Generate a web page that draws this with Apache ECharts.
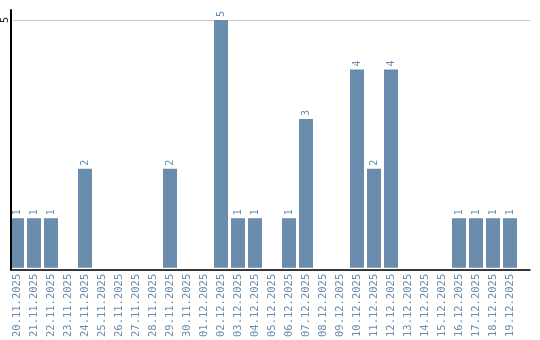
<!DOCTYPE html>
<html><head><meta charset="utf-8">
<script src="https://cdn.jsdelivr.net/npm/echarts@6/dist/echarts.min.js"></script>
<style>html,body{margin:0;padding:0;background:#fff}#c{width:540px;height:340px}</style>
</head><body><div id="c"></div>
<script>
const categories = ['20.11.2025','21.11.2025','22.11.2025','23.11.2025','24.11.2025','25.11.2025','26.11.2025','27.11.2025','28.11.2025','29.11.2025','30.11.2025','01.12.2025','02.12.2025','03.12.2025','04.12.2025','05.12.2025','06.12.2025','07.12.2025','08.12.2025','09.12.2025','10.12.2025','11.12.2025','12.12.2025','13.12.2025','14.12.2025','15.12.2025','16.12.2025','17.12.2025','18.12.2025','19.12.2025'];
const values = [1,1,1,0,2,0,0,0,0,2,0,0,5,1,1,0,1,3,0,0,4,2,4,0,0,0,1,1,1,1];
const yTicks = [5];

const barColor = '#6a8cad';
const font = 'DejaVu Sans Mono';
const chart = echarts.init(document.getElementById('c'), null, {renderer:'canvas'});
chart.setOption({
  animation:false,
  grid:[
    {left:11, right:10, top:10, bottom:70},
    {left:11, right:10, top:20, bottom:70},
    {left:8.5, width:510, top:20, bottom:70}
  ],
  xAxis:[
    {gridIndex:0, type:'value', min:0, max:1, z:5,
     axisLine:{show:true, lineStyle:{color:'#000', width:1.5}}, axisTick:{show:false}, axisLabel:{show:false}, splitLine:{show:false}},
    {gridIndex:1, type:'value', min:0, max:1, show:false},
    {gridIndex:2, type:'category', data:categories,
     axisLine:{show:false}, axisTick:{show:false},
     axisLabel:{rotate:90, interval:0, margin:6, color:barColor, fontFamily:font, fontSize:10.5}}
  ],
  yAxis:[
    {gridIndex:0, type:'value', min:0, max:5.2, z:5,
     axisLine:{show:true, lineStyle:{color:'#000', width:2}}, axisTick:{show:false}, axisLabel:{show:false}, splitLine:{show:false}},
    {gridIndex:1, type:'value', min:0, max:5, interval:5,
     axisLine:{show:false}, axisTick:{show:false},
     axisLabel:{rotate:90, margin:3, color:'#222', fontFamily:font, fontSize:10, showMinLabel:false,
       formatter:v=>yTicks.includes(v)?String(v):''},
     splitLine:{show:true, lineStyle:{color:'#c8c8c8', width:1}}},
    {gridIndex:2, type:'value', min:0, max:5, show:false}
  ],
  series:[{
    type:'bar', xAxisIndex:2, yAxisIndex:2, data:values, barWidth:14,
    itemStyle:{color:barColor},
    label:{show:true, position:'top', distance:3, rotate:90, align:'left', verticalAlign:'middle',
      color:barColor, fontFamily:font, fontSize:10,
      formatter:p=>p.value>0?String(p.value):''}
  }]
});
</script></body></html>
